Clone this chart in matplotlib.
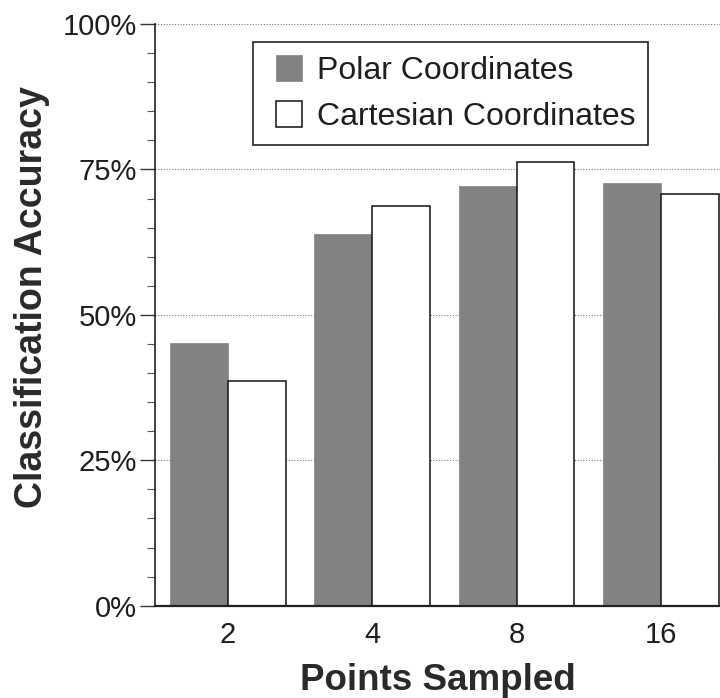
import numpy as np
import matplotlib.pyplot as plt
from matplotlib.patches import Rectangle
from matplotlib.container import BarContainer
from matplotlib.legend_handler import HandlerPatch, update_from_first_child
from matplotlib.ticker import MultipleLocator, PercentFormatter

# ============= Data
pointsSampled = ['2', '4', '8', '16']
polarAcc = [45.2, 63.9, 72.1, 72.7]
cartesianAcc = [38.7, 68.8, 76.2, 70.7]
seriesNames = ['Polar Coordinates', 'Cartesian Coordinates']

# ============= Style
plt.rcParams['font.family'] = ['Liberation Sans', 'DejaVu Sans']
textColor = '#1e1e1e'
polarColor = '#828282'
barWidth = 0.4


def squarePatch(legend, orig_handle, xdescent, ydescent, width, height, fontsize):
    # square swatch pushed to the right end of the handle box
    side = height
    return Rectangle((width - side - xdescent, -ydescent), side, side)


fig = plt.figure(figsize=(7.2, 6.98), dpi=100)
ax = fig.add_axes([0.2153, 0.1322, 0.7847, 0.8334])

x = np.arange(len(pointsSampled))
ax.bar(x - barWidth / 2, polarAcc, barWidth, color=polarColor,
       edgecolor=polarColor, linewidth=0.5, label=seriesNames[0], zorder=2)
ax.bar(x + barWidth / 2, cartesianAcc, barWidth, color='white',
       edgecolor='#111111', linewidth=1.1, label=seriesNames[1], zorder=2)

ax.set_xlim(-0.505, 3.41)
ax.set_ylim(0, 100)

ax.yaxis.set_major_locator(MultipleLocator(25))
ax.yaxis.set_minor_locator(MultipleLocator(5))
ax.yaxis.set_major_formatter(PercentFormatter(decimals=0))
ax.set_xticks(x)
ax.set_xticklabels(pointsSampled)

ax.tick_params(axis='y', which='major', length=11, width=1.0, pad=2,
               labelsize=21, colors='#333333', labelcolor=textColor)
ax.tick_params(axis='y', which='minor', length=5.5, width=0.8, colors='#555555')
ax.tick_params(axis='x', length=0, pad=11, labelsize=21, labelcolor=textColor)

ax.yaxis.grid(True, which='major', linestyle=(0, (1, 1.5)), linewidth=0.8,
              color='#777777', zorder=0)
ax.set_axisbelow(True)

for side in ['top', 'right']:
    ax.spines[side].set_visible(False)
ax.spines['left'].set_linewidth(1.2)
ax.spines['left'].set_color('#222222')
ax.spines['bottom'].set_linewidth(1.6)
ax.spines['bottom'].set_color('#222222')

ax.set_xlabel('Points Sampled', fontsize=26.5, fontweight='bold',
              color='#2a2a2a', labelpad=10)
ax.set_ylabel('Classification Accuracy', fontsize=27, fontweight='bold',
              color='#2a2a2a')
ax.yaxis.set_label_coords(-0.186, 0.531)

squareHandler = HandlerPatch(patch_func=squarePatch,
                             update_func=update_from_first_child)
leg = ax.legend(loc='upper left', bbox_to_anchor=(253 / 720, 1 - 42 / 698),
                bbox_transform=fig.transFigure, fontsize=23, frameon=True,
                fancybox=False, edgecolor='#222222', framealpha=1,
                handlelength=1.1, handleheight=0.875, handletextpad=0.47,
                labelspacing=0.45, borderpad=0.42, borderaxespad=0,
                handler_map={BarContainer: squareHandler})
leg.get_frame().set_linewidth(1.2)
for t in leg.get_texts():
    t.set_color(textColor)

fig.savefig('out.png', dpi=100)
